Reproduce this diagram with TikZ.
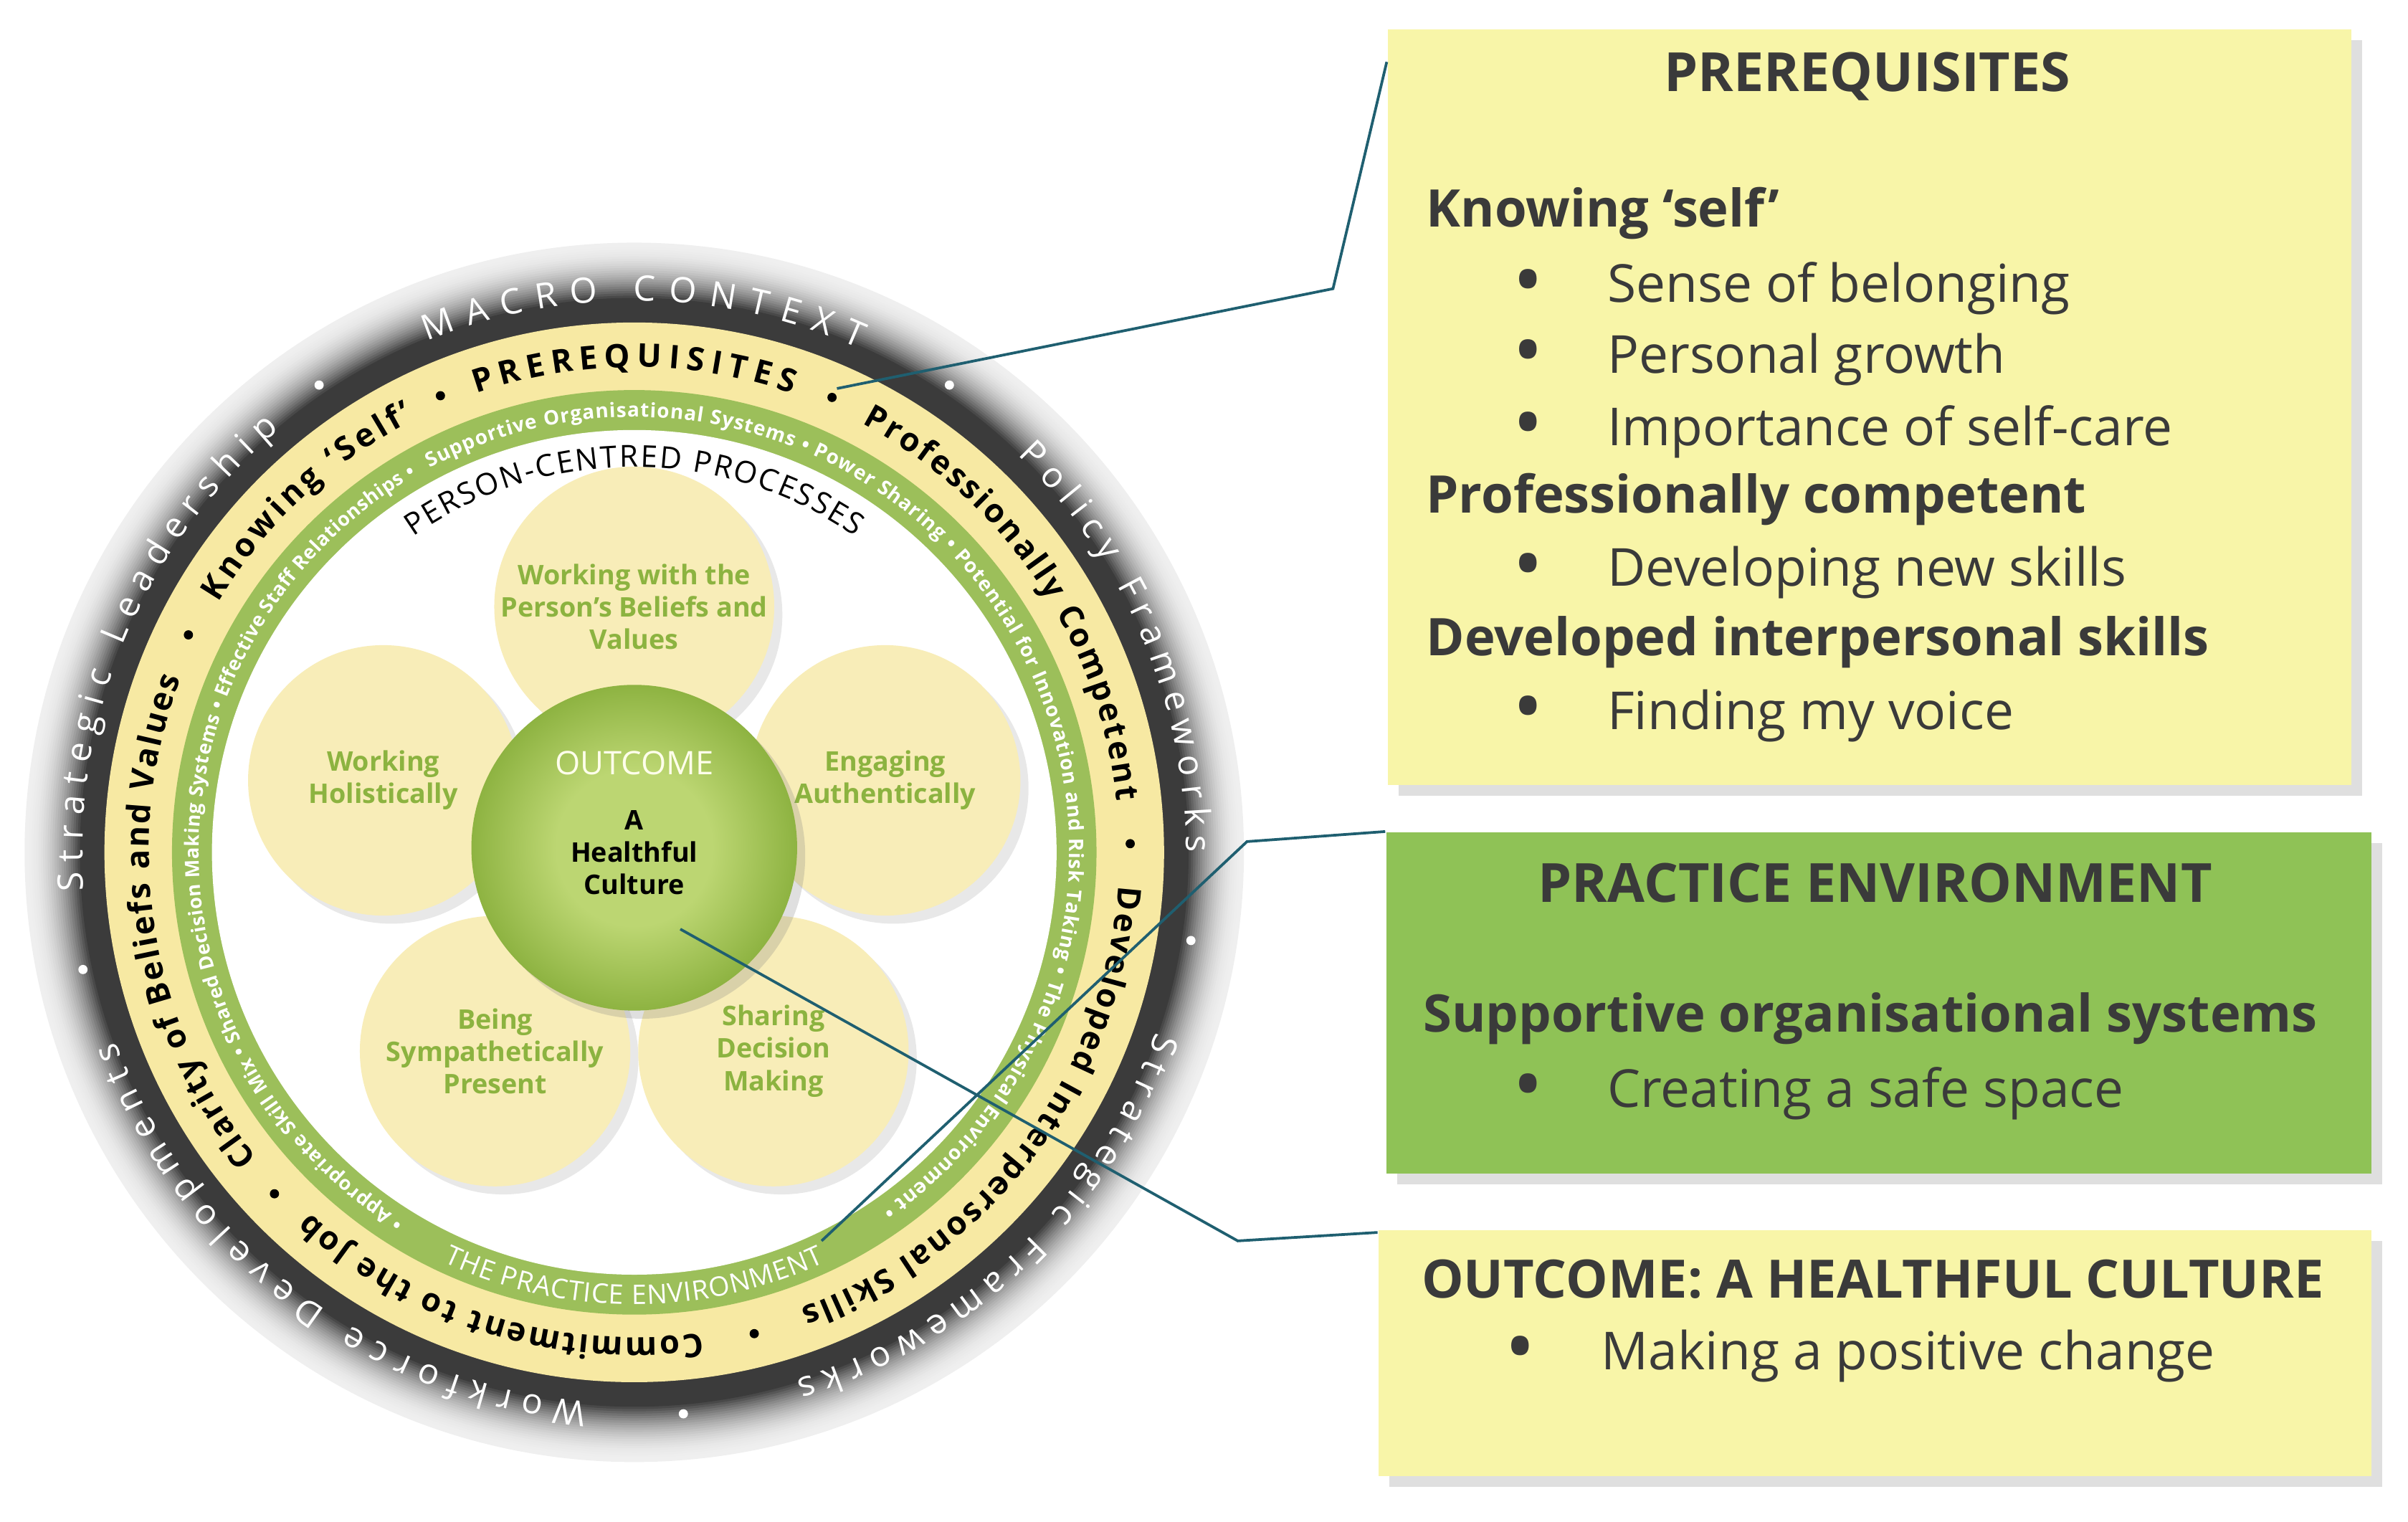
\documentclass[tikz,border=0pt]{standalone}
\usepackage{fontspec}
\setmainfont{Open Sans}
\usetikzlibrary{decorations.text,shadows}

\definecolor{ringdark}{HTML}{3B3B3B}
\definecolor{ringyellow}{HTML}{F7E9A3}
\definecolor{ringgreen}{HTML}{9CBF5A}
\definecolor{petalfill}{HTML}{F8EDB8}
\definecolor{petaltext}{HTML}{8CB340}
\definecolor{boxyellow}{HTML}{F8F5A8}
\definecolor{boxgreen}{HTML}{8FC256}
\definecolor{boxtext}{HTML}{3A3A3A}
\definecolor{linkcol}{HTML}{1F5F70}
\definecolor{ballhi}{HTML}{BCD672}
\definecolor{balldark}{HTML}{6A981C}

\pgfdeclareradialshading{ballshade}{\pgfpoint{0bp}{0bp}}{color(0bp)=(ballhi); color(12bp)=(ballhi); color(35bp)=(balldark); color(50bp)=(balldark)}

% text along an arc round the centre
\newcommand\ringtext[5][]{\path[decorate,decoration={text along path,text align={fit to path},#1,text={#5}}] (ctr) ++(#3:#2) arc[start angle=#3,end angle=#4,radius=#2];}

\tikzset{
  petal/.style={circle,fill=petalfill,minimum size=1.76cm,inner sep=0pt,align=center,
    font=\fontsize{5}{6}\selectfont\bfseries,text=petaltext,drop shadow={opacity=0.18,shadow xshift=1.5pt,shadow yshift=-1.5pt}},
  ball/.style={circle,shading=ballshade,minimum size=2.12cm,inner sep=0pt,drop shadow={opacity=0.25,shadow xshift=1.5pt,shadow yshift=-1.5pt}},
  infobox/.style={rectangle,anchor=south west,inner sep=0pt,drop shadow={opacity=0.25,shadow xshift=2pt,shadow yshift=-2pt}},
  boxtitle/.style={font=\fontsize{10}{12}\selectfont\bfseries,text=boxtext,inner sep=0pt},
  boxhead/.style={font=\fontsize{9.6}{11}\selectfont\bfseries,text=boxtext,anchor=west,inner sep=0pt},
  boxitem/.style={font=\fontsize{9.7}{11}\selectfont,text=boxtext,anchor=west,inner sep=0pt},
  boxbullet/.style={font=\fontsize{15}{15}\selectfont,text=boxtext,anchor=center,inner sep=0pt},
  link/.style={draw=linkcol,line width=0.5pt},
  ringdot/.style={fill=black},
}

\begin{document}
\begin{tikzpicture}[x=0.01cm,y=0.01cm]
\useasboundingbox (0,0) rectangle (1568,991);
\coordinate (ctr) at (413,436);

% rings, outer edge fades to white
\foreach \i in {0,...,30}{
  \pgfmathsetmacro\rr{397-1.5*\i}
  \pgfmathsetmacro\pp{min(100,\i*\i*0.16+8)}
  \fill[ringdark!\pp!white] (ctr) circle (\rr);
}
\fill[ringyellow] (ctr) circle (345);
\fill[ringgreen] (ctr) circle (301);
\fill[white] (ctr) circle (275);

% macro context
\ringtext[text color=white,raise=-2.2pt]{367}{112}{66}{|\fontsize{6.5}{7}\selectfont|MACRO CONTEXT}
\ringtext[text color=white,raise=-2.2pt]{367}{46}{0}{|\fontsize{6.5}{7}\selectfont|Policy Frameworks}
\ringtext[text color=white,raise=-2.2pt]{367}{-19}{-73}{|\fontsize{6.5}{7}\selectfont|Strategic Frameworks}
\ringtext[text color=white,raise=-2.2pt]{367}{-95}{-160}{|\fontsize{6.5}{7}\selectfont|Workforce Developments}
\ringtext[text color=white,raise=-2.2pt]{367}{-176}{-230}{|\fontsize{6.5}{7}\selectfont|Strategic Leadership}
\foreach \a in {56,-9,-85,-168,-236}
  \fill[white] (ctr) ++(\a:367) circle (3);

% prerequisites
\ringtext[raise=-2pt]{323}{109}{71}{|\fontsize{6}{7}\selectfont\bfseries|PREREQUISITES}
\ringtext[raise=-2pt]{323}{62}{6}{|\fontsize{6}{7}\selectfont\bfseries|Professionally Competent}
\ringtext[raise=-2pt]{323}{-4}{-70}{|\fontsize{6}{7}\selectfont\bfseries|Developed Interpersonal Skills}
\ringtext[raise=-2pt]{323}{-82}{-132}{|\fontsize{6}{7}\selectfont\bfseries|Commitment to the Job}
\ringtext[raise=-2pt]{323}{-141}{-201}{|\fontsize{6}{7}\selectfont\bfseries|Clarity of Beliefs and Values}
\ringtext[raise=-2pt]{323}{149}{117}{|\fontsize{6}{7}\selectfont\bfseries|Knowing ‘Self’}
\foreach \a in {113,66.5,1,-76,-136.5,154}
  \fill[ringdot] (ctr) ++(\a:323) circle (3);

% practice environment
\ringtext[text color=white,raise=-1.3pt]{288}{118}{-55}{|\fontsize{3.7}{5}\selectfont\bfseries|Supportive Organisational Systems • Power Sharing • Potential for Innovation and Risk Taking • The Physical Environment •}
\ringtext[text color=white,raise=-1.3pt]{288}{-122}{-240}{|\fontsize{3.6}{5}\selectfont\bfseries|• Appropriate Skill Mix • Shared Decision Making Systems • Effective Staff Relationships •}
\ringtext[text color=white,raise=-1.8pt]{288}{-115}{-65}{|\fontsize{5}{6}\selectfont|THE PRACTICE ENVIRONMENT}

% flower
\node[petal] (p-top) at ([shift={(90:160)}]ctr) {Working with the\\Person’s Beliefs and\\Values};
\node[petal] (p-left) at ([shift={(164:170)}]ctr) {Working\\Holistically};
\node[petal] (p-right) at ([shift={(16:170)}]ctr) {Engaging\\Authentically};
\node[petal] (p-botl) at ([shift={(235:158)}]ctr) {Being\\Sympathetically\\Present};
\node[petal] (p-botr) at ([shift={(305:158)}]ctr) {Sharing\\Decision\\Making};
\node[ball] (ball) at ([yshift=0.03cm]ctr) {};
\node[font=\fontsize{6}{7}\selectfont,text=white!92!yellow,inner sep=0pt] (ball-title) at ([yshift=0.55cm]ball.center) {OUTCOME};
\node[font=\fontsize{5}{6}\selectfont\bfseries,align=center,inner sep=0pt] (ball-text) at ([yshift=-0.03cm]ball.center) {A\\Healthful\\Culture};
\ringtext[raise=-2pt]{258}{125}{55}{|\fontsize{5.6}{6}\selectfont|PERSON-CENTRED PROCESSES}

% boxes
\node[infobox,fill=boxyellow,minimum width=6.27cm,minimum height=4.92cm] (prereq) at (903,479) {};
\node[infobox,fill=boxgreen,minimum width=6.41cm,minimum height=2.22cm] (practice) at (902,226) {};
\node[infobox,fill=boxyellow,minimum width=6.46cm,minimum height=1.60cm] (outcome) at (897,29) {};

\node[boxtitle] at (1216,941) {PREREQUISITES};
\node[boxhead] at (928,852) {Knowing ‘self’};
\node[boxbullet] at (995,803) {•}; \node[boxitem] at (1046,803) {Sense of belonging};
\node[boxbullet] at (995,757) {•}; \node[boxitem] at (1046,757) {Personal growth};
\node[boxbullet] at (995,710) {•}; \node[boxitem] at (1046,710) {Importance of self-care};
\node[boxhead] at (928,666) {Professionally competent};
\node[boxbullet] at (995,618) {•}; \node[boxitem] at (1046,618) {Developing new skills};
\node[boxhead] at (928,573) {Developed interpersonal skills};
\node[boxbullet] at (995,525) {•}; \node[boxitem] at (1046,525) {Finding my voice};

\node[boxtitle] at (1221,416) {PRACTICE ENVIRONMENT};
\node[boxhead] at (926,328) {Supportive organisational systems};
\node[boxbullet] at (995,279) {•}; \node[boxitem] at (1046,279) {Creating a safe space};

\node[boxtitle,anchor=west,font=\fontsize{9.8}{12}\selectfont\bfseries] at (925,158) {OUTCOME: A HEALTHFUL CULTURE};
\node[boxbullet] at (990,108) {•}; \node[boxitem] at (1042,108) {Making a positive change};

% links
\coordinate (l1) at (545,738);
\coordinate (k1) at (868,803);
\coordinate (l2) at (535,183);
\coordinate (k2) at (812,443);
\coordinate (l3) at (443,386);
\coordinate (k3) at (806,183);
\draw[link] (l1) -- (k1) -- ([yshift=-0.22cm]prereq.north west);
\draw[link] (l2) -- (k2) -- (practice.north west);
\draw[link] (l3) -- (k3) -- ([yshift=-0.02cm]outcome.north west);
\end{tikzpicture}
\end{document}
